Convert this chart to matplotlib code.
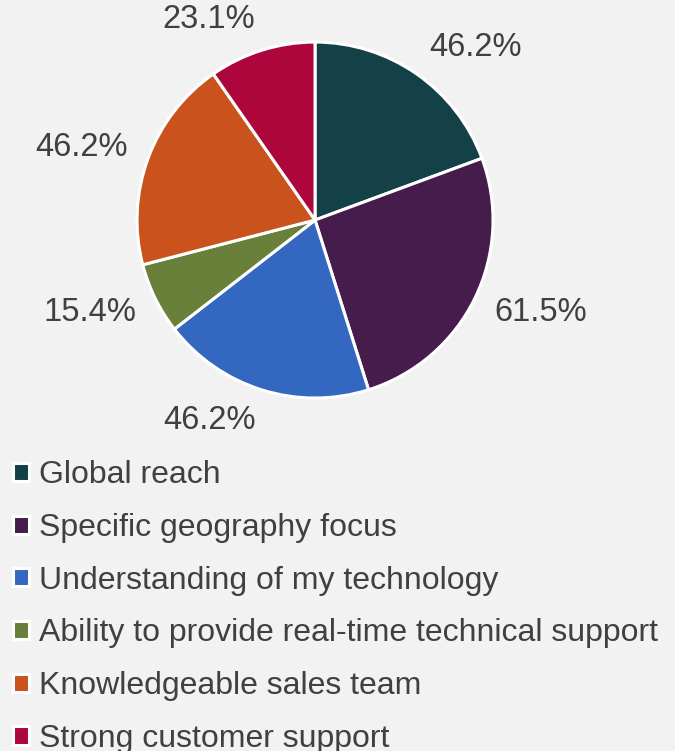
import matplotlib.pyplot as plt

plt.rcParams['font.family'] = ['Liberation Sans', 'DejaVu Sans']

categories = [
    "Global reach",
    "Specific geography focus",
    "Understanding of my technology",
    "Ability to provide real-time technical support",
    "Knowledgeable sales team",
    "Strong customer support",
]
values = [46.2, 61.5, 46.2, 15.4, 46.2, 23.1]
colors = ["#134147", "#461c4c", "#3468c0", "#68803a", "#c9521d", "#ac063c"]
labels = [f"{v:.1f}%" for v in values]

bg = "#f2f2f2"
text_color = "#404040"

fig = plt.figure(figsize=(6.75, 7.51), dpi=100, facecolor=bg)
ax = fig.add_axes([0.203, 0.470, 0.5274, 0.474])
ax.set_facecolor(bg)

wedges, texts = ax.pie(
    values,
    labels=labels,
    colors=colors,
    startangle=90,
    counterclock=False,
    labeldistance=1.12,
    wedgeprops=dict(edgecolor="white", linewidth=2.2),
    textprops=dict(fontsize=23.5, color=text_color),
)
# stretch label positions vertically so top/bottom labels clear the pie
for t in texts:
    x, y = t.get_position()
    t.set_position((x, y * 1.055))

ax.set_xlim(-1, 1)
ax.set_ylim(-1, 1)
ax.set_aspect("equal")
ax.axis("off")

leg = fig.legend(
    wedges, categories,
    loc="upper left",
    bbox_to_anchor=(0.001, 0.404),
    frameon=False,
    fontsize=23,
    handlelength=0.5,
    handleheight=0.5,
    handletextpad=0.3,
    labelspacing=0.71,
    borderaxespad=0,
)
for t in leg.get_texts():
    t.set_color(text_color)

fig.savefig("out.png", dpi=100, facecolor=bg)
